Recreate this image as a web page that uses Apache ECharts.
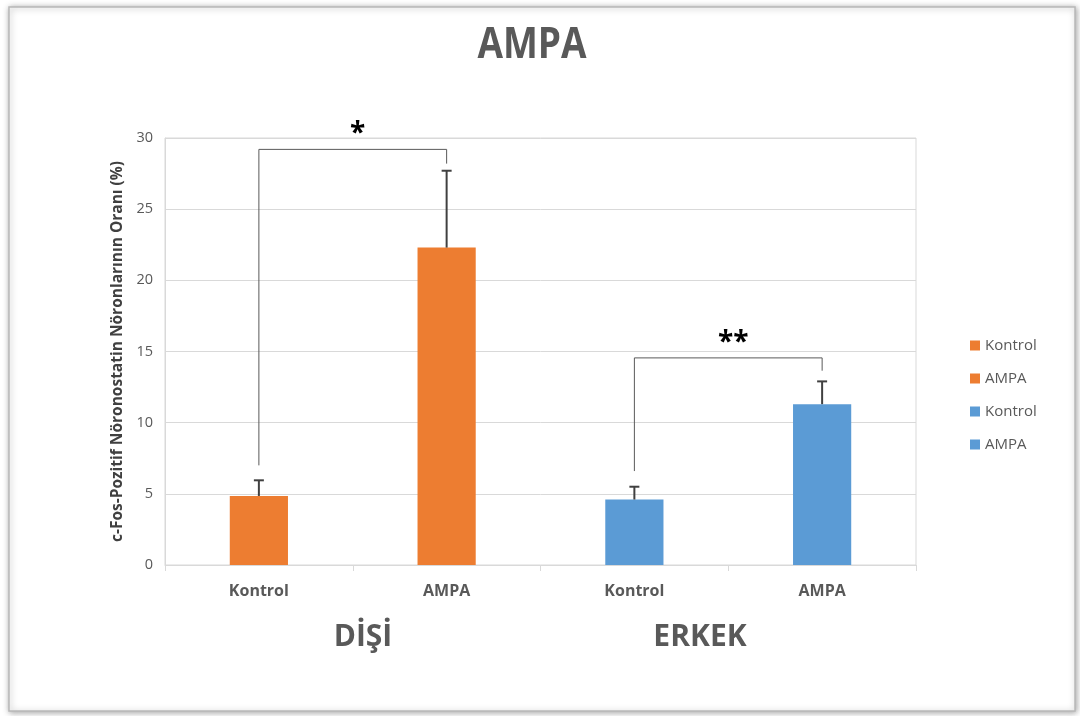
<!DOCTYPE html>
<html><head><meta charset="utf-8">
<script src="https://cdn.jsdelivr.net/npm/echarts@6/dist/echarts.min.js"></script>
<style>html,body{margin:0;padding:0;background:#fff}#c{width:1080px;height:716px}</style>
</head><body><div id="c"></div>
<script>
const titleText = 'AMPA';
const categories = ['Kontrol', 'AMPA', 'Kontrol', 'AMPA'];
const groupLabels = ['DİŞİ', 'ERKEK'];
const seriesNames = ['Kontrol', 'AMPA', 'Kontrol\u200b', 'AMPA\u200b'];
const means = [4.85, 22.3, 4.6, 11.3];
const errors = [1.1, 5.4, 0.9, 1.6];
const colors = ['#ED7D31', '#ED7D31', '#5B9BD5', '#5B9BD5'];
const yTicks = [0, 5, 10, 15, 20, 25, 30];
// brackets: [fromIndex, toIndex, topValue, leftLegEnd, rightLegEnd, label]
const brackets = [
  [0, 1, 29.2, 7.0, 28.2, '*'],
  [2, 3, 14.55, 6.6, 13.65, '**']
];

const font = '"Open Sans", "Liberation Sans", sans-serif';
const chart = echarts.init(document.getElementById('c'), null, {renderer: 'canvas'});

const barSeries = seriesNames.map((n, i) => ({
  name: n, type: 'bar', stack: 'all', barWidth: '31%',
  itemStyle: {color: colors[i]},
  data: categories.map((c, j) => j === i ? means[j] : '-'),
  z: 2
}));

const errSeries = {
  type: 'custom', silent: true, z: 4,
  data: means.map((m, i) => [i, m, m + errors[i]]),
  renderItem: (params, api) => {
    const b = api.coord([api.value(0), api.value(1)]);
    const t = api.coord([api.value(0), api.value(2)]);
    const st = {stroke: '#404040', lineWidth: 2};
    return {type: 'group', children: [
      {type: 'line', shape: {x1: b[0], y1: b[1], x2: t[0], y2: t[1]}, style: st},
      {type: 'line', shape: {x1: t[0] - 5, y1: t[1], x2: t[0] + 5, y2: t[1]}, style: st}
    ]};
  }
};

const bracketSeries = {
  type: 'custom', silent: true, z: 3,
  data: brackets,
  renderItem: (params, api) => {
    const x1 = api.value(0), x2 = api.value(1), top = api.value(2);
    const p1 = api.coord([x1, top]), p2 = api.coord([x2, top]);
    const l1 = api.coord([x1, api.value(3)]), l2 = api.coord([x2, api.value(4)]);
    const st = {stroke: '#595959', lineWidth: 1};
    const d = brackets[params.dataIndex];
    return {type: 'group', children: [
      {type: 'polyline', shape: {points: [[l1[0], l1[1]], [p1[0], p1[1]], [p2[0], p2[1]], [l2[0], l2[1]]]}, style: Object.assign({fill: null}, st)},
      {type: 'text', x: (p1[0] + p2[0]) / 2 + 5, y: p1[1] - 1,
       style: {text: d[5], fill: '#000', font: 'bold 28px ' + font, align: 'center', verticalAlign: 'bottom', letterSpacing: 4}}
    ]};
  }
};

chart.setOption({
  animation: false,
  backgroundColor: '#fff',
  grid: {left: 165, right: 164, top: 138, bottom: 151, show: true, borderColor: '#d9d9d9', borderWidth: 1},
  legend: {orient: 'vertical', left: 965, top: 333, itemWidth: 10, itemHeight: 10, itemGap: 18, icon: 'rect',
    data: seriesNames,
    textStyle: {fontFamily: font, fontSize: 15, color: '#595959'}},
  xAxis: {type: 'category', data: categories,
    axisLine: {lineStyle: {color: '#d9d9d9'}},
    axisTick: {show: true, length: 6, lineStyle: {color: '#d9d9d9'}},
    axisLabel: {margin: 18, fontFamily: font, fontWeight: 'bold', fontSize: 16, color: '#595959'}},
  yAxis: {type: 'value', min: 0, max: 30, interval: 5,
    name: 'c-Fos-Pozitif Nöronostatin Nöronlarının Oranı (%)', nameLocation: 'middle', nameGap: 37,
    nameTextStyle: {fontFamily: font, fontWeight: 'bold', fontSize: 15.5, color: '#404040'},
    axisLine: {show: true, lineStyle: {color: '#d9d9d9'}},
    axisLabel: {margin: 12, fontFamily: font, fontSize: 14.5, color: '#595959',
      formatter: v => yTicks.includes(v) ? String(v) : ''},
    splitLine: {lineStyle: {color: '#d9d9d9'}}},
  graphic: [
    {type: 'rect', shape: {x: 9, y: 7, width: 1066, height: 704}, silent: true, z: -10,
     style: {fill: '#fff', stroke: '#b8b8b8', lineWidth: 1.5, shadowBlur: 6, shadowColor: 'rgba(0,0,0,0.35)', shadowOffsetX: 1, shadowOffsetY: 1}},
    {type: 'text', x: 532, y: 46, scaleX: 0.86, style: {text: titleText, font: 'bold 43px ' + font, fill: '#595959', align: 'center', verticalAlign: 'middle'}},
    {type: 'text', x: 363, y: 637, style: {text: groupLabels[0], font: 'bold 30px ' + font, fill: '#595959', align: 'center', verticalAlign: 'middle'}},
    {type: 'text', x: 700, y: 637, style: {text: groupLabels[1], font: 'bold 30px ' + font, fill: '#595959', align: 'center', verticalAlign: 'middle'}}
  ],
  series: [...barSeries, errSeries, bracketSeries]
});
</script></body></html>
